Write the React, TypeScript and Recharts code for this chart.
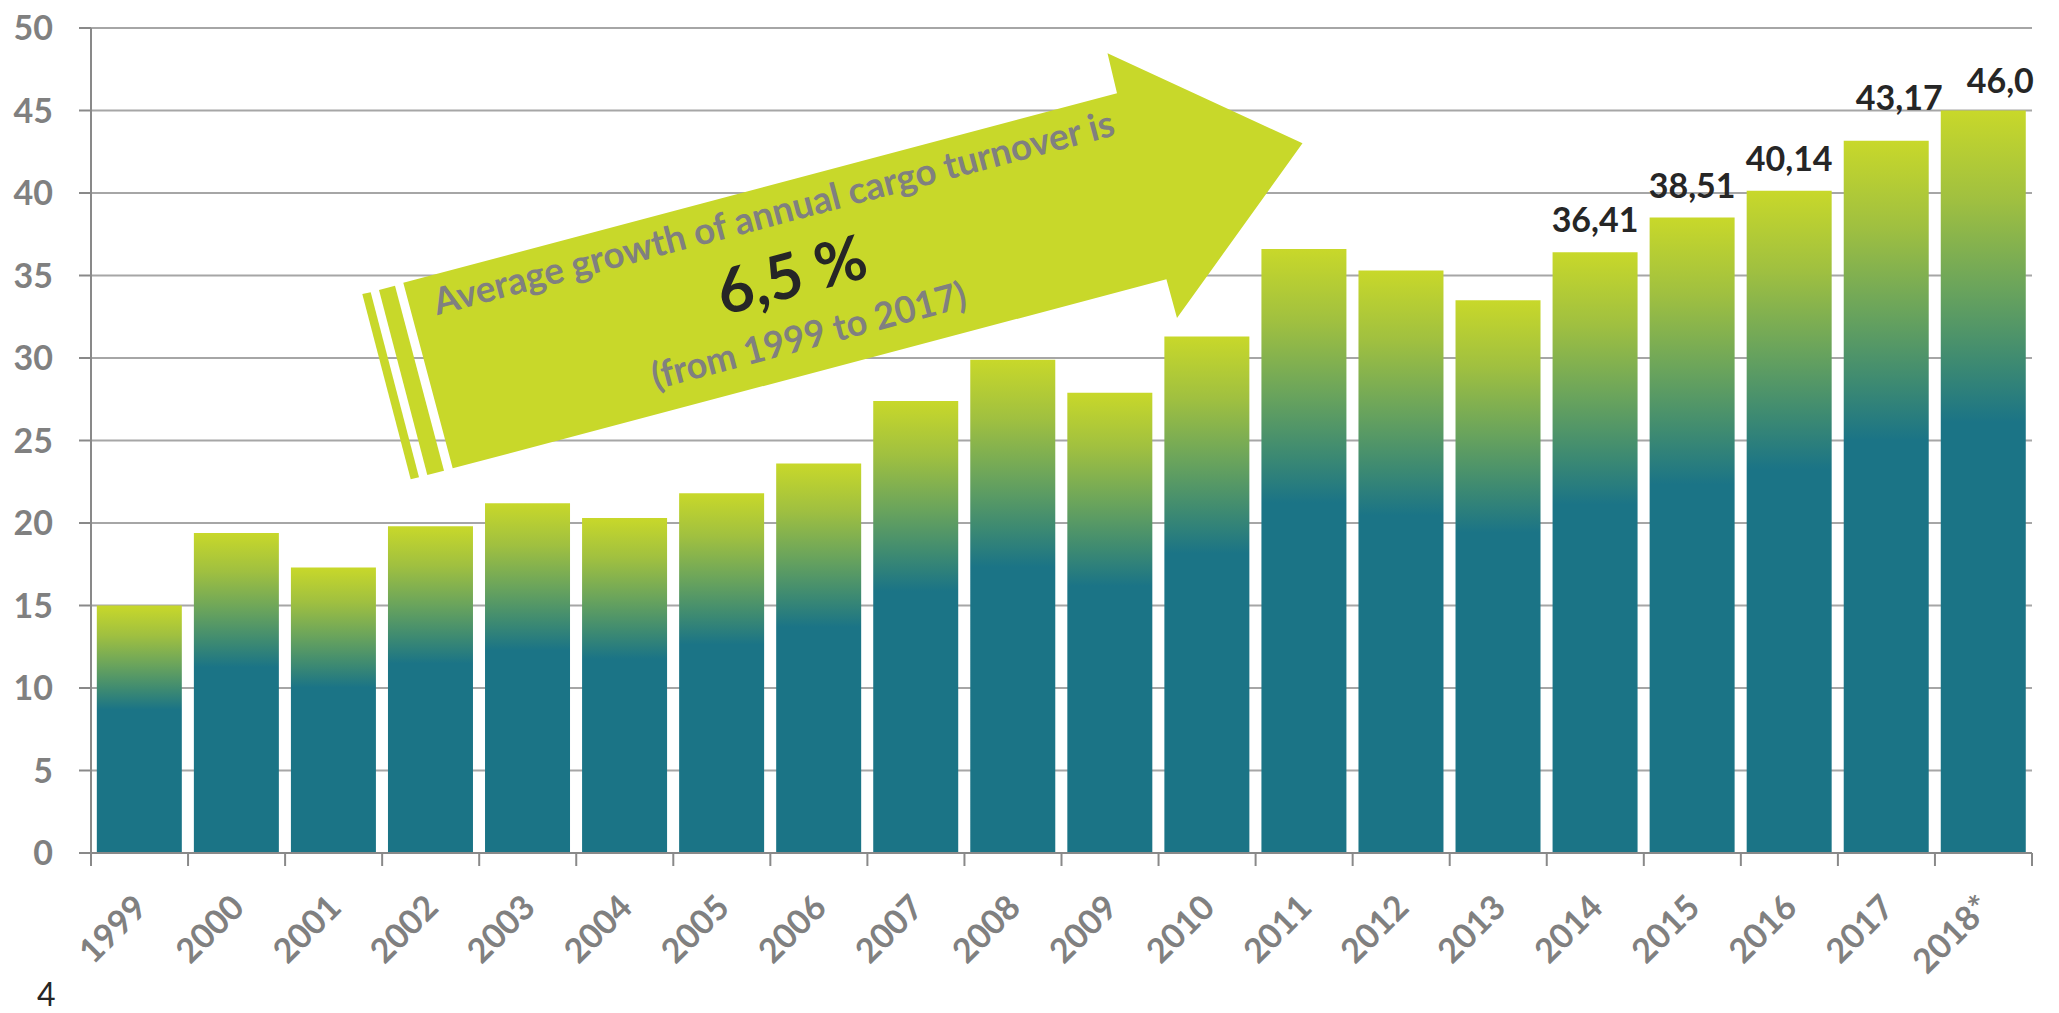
import { BarChart, Bar, XAxis, YAxis, CartesianGrid, LabelList } from "recharts";

const YEARS = [
  "1999", "2000", "2001", "2002", "2003", "2004", "2005", "2006", "2007", "2008",
  "2009", "2010", "2011", "2012", "2013", "2014", "2015", "2016", "2017", "2018*",
];
const CARGO = [
  15.0, 19.4, 17.3, 19.8, 21.2, 20.3, 21.8, 23.6, 27.4, 29.9,
  27.9, 31.3, 36.6, 35.3, 33.5, 36.41, 38.51, 40.14, 43.17, 45.0,
];
const VALUE_LABELS = [
  "", "", "", "", "", "", "", "", "", "",
  "", "", "", "", "", "36,41", "38,51", "40,14", "43,17", "46,0",
];
const Y_TICKS = [0, 5, 10, 15, 20, 25, 30, 35, 40, 45, 50];

const W = 2059;
const H = 1013;
const PLOT_LEFT = 91;
const PLOT_RIGHT = 2032;
const BAND = (PLOT_RIGHT - PLOT_LEFT) / YEARS.length;

const GRAY = "#808080";
const AXIS = "#898989";
const DARK = "#262626";
const LIME = "#c8d82a";
const FONT = "Lato, 'Open Sans', sans-serif";

// hand-moved labels in the original slide
const LABEL_NUDGE: Record<string, [number, number]> = {
  "2017": [13, -11],
  "2018*": [17, 2],
};

const data = YEARS.map((year, i) => ({ year, value: CARGO[i], label: VALUE_LABELS[i] }));

function YearTick(props: any) {
  const { x, y, payload, index } = props;
  const half = BAND / 2;
  const ty = y + 47;
  return (
    <g>
      <line x1={x - half} x2={x - half} y1={y} y2={y + 13} stroke={AXIS} strokeWidth={2} />
      {index === YEARS.length - 1 && (
        <line x1={x + half} x2={x + half} y1={y} y2={y + 13} stroke={AXIS} strokeWidth={2} />
      )}
      <text
        x={x}
        y={ty}
        transform={`rotate(-45 ${x} ${ty})`}
        textAnchor="end"
        dominantBaseline="central"
        fill={GRAY}
        fontSize={34}
        fontWeight={700}
        fontFamily={FONT}
      >
        {payload.value}
      </text>
    </g>
  );
}

function ValueLabel(props: any) {
  const { x, y, width, value, index } = props;
  if (!value) return null;
  const [dx, dy] = LABEL_NUDGE[YEARS[index]] || [0, 0];
  return (
    <text
      x={x + width / 2 + dx}
      y={y - 20 + dy}
      textAnchor="middle"
      fill={DARK}
      fontSize={34}
      fontWeight={700}
      fontFamily={FONT}
    >
      {value}
    </text>
  );
}

function GrowthArrow() {
  const angle = -14.86;
  return (
    <svg
      width={W}
      height={H}
      style={{ position: "absolute", left: 0, top: 0, pointerEvents: "none" }}
    >
      <polygon points="362.3,294 370.7,292.3 419,477.3 410.7,479.3" fill={LIME} />
      <polygon points="379,290 395,285.7 444,470.7 427.3,475" fill={LIME} />
      <polygon
        points="403.3,282.7 1117,93.3 1107.5,53.3 1302.5,143.3 1177,318 1166.4,279.3 452.7,468.3"
        fill={LIME}
      />
      <text
        x={777}
        y={225}
        transform={`rotate(${angle} 777 225)`}
        textAnchor="middle"
        fill={GRAY}
        fontSize={37}
        fontWeight={700}
        fontFamily={FONT}
        textLength={703}
        lengthAdjust="spacingAndGlyphs"
      >
        Average growth of annual cargo turnover is
      </text>
      <text
        x={797}
        y={296}
        transform={`rotate(${angle} 797 296)`}
        textAnchor="middle"
        fill={DARK}
        fontSize={62}
        fontWeight={700}
        fontFamily={FONT}
      >
        6,5 %
      </text>
      <text
        x={812}
        y={348}
        transform={`rotate(${angle} 812 348)`}
        textAnchor="middle"
        fill={GRAY}
        fontSize={37}
        fontWeight={700}
        fontFamily={FONT}
        textLength={324}
        lengthAdjust="spacingAndGlyphs"
      >
        (from 1999 to 2017)
      </text>
      <text x={37} y={1006} fill={DARK} fontSize={32} fontFamily={FONT}>
        4
      </text>
    </svg>
  );
}

export default function App() {
  return (
    <div style={{ position: "absolute", left: 0, top: 0, width: W, height: H, background: "#fff" }}>
      <BarChart
        width={W}
        height={H}
        data={data}
        margin={{ top: 28, right: W - PLOT_RIGHT, left: 0, bottom: 0 }}
        barCategoryGap="6%"
      >
        <defs>
          <linearGradient id="barGrad" x1="0" y1="0" x2="0" y2="1">
            <stop offset="0" stopColor="#c8d82a" />
            <stop offset="0.12" stopColor="#a0c040" />
            <stop offset="0.24" stopColor="#6aa45c" />
            <stop offset="0.34" stopColor="#3d8a72" />
            <stop offset="0.42" stopColor="#1b7486" />
            <stop offset="1" stopColor="#1b7486" />
          </linearGradient>
        </defs>
        <CartesianGrid vertical={false} stroke="#a6a6a6" strokeWidth={2} />
        <XAxis
          dataKey="year"
          height={H - 853}
          interval={0}
          tickLine={false}
          tickSize={0}
          tickMargin={0}
          axisLine={{ stroke: AXIS, strokeWidth: 2 }}
          tick={<YearTick />}
        />
        <YAxis
          type="number"
          domain={[0, 50]}
          ticks={Y_TICKS}
          interval={0}
          width={PLOT_LEFT}
          tickSize={12}
          tickMargin={26}
          axisLine={{ stroke: AXIS, strokeWidth: 2 }}
          tickLine={{ stroke: AXIS, strokeWidth: 2 }}
          tick={{ fill: GRAY, fontSize: 34, fontWeight: 700, fontFamily: FONT }}
        />
        <Bar dataKey="value" fill="url(#barGrad)" isAnimationActive={false}>
          <LabelList dataKey="label" content={<ValueLabel />} />
        </Bar>
      </BarChart>
      <GrowthArrow />
    </div>
  );
}
